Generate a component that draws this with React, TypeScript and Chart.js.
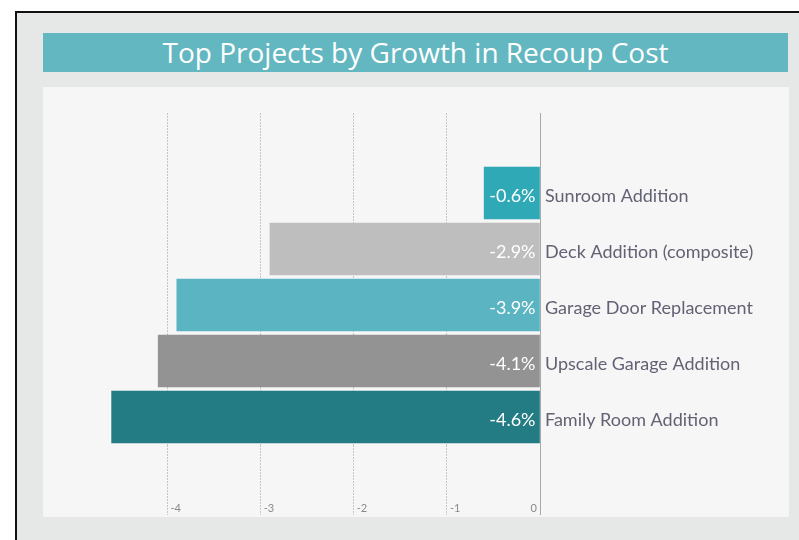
import React, { useEffect, useRef } from "react";
import { Chart, registerables } from "chart.js";

Chart.register(...registerables);

const titleText = "Top Projects by Growth in Recoup Cost";
const categories = [
  "Sunroom Addition",
  "Deck Addition (composite)",
  "Garage Door Replacement",
  "Upscale Garage Addition",
  "Family Room Addition",
];
const growth = [-0.6, -2.9, -3.9, -4.1, -4.6];
const barColors = ["#2fa9b5", "#bebebe", "#5ab4c2", "#939393", "#237b83"];
const xTicks = [-4, -3, -2, -1, 0];

const GRID = "#c6c6c6";
const ZERO = "#a9a9a9";

const labelsPlugin = {
  id: "customLabels",
  afterDatasetsDraw(chart: any) {
    const ctx = chart.ctx;
    const meta = chart.getDatasetMeta(0);
    ctx.save();
    ctx.font = "18px Lato";
    ctx.fillStyle = "#ffffff";
    ctx.textAlign = "right";
    ctx.textBaseline = "middle";
    meta.data.forEach((bar: any, i: number) => {
      const p = bar.getProps(["x", "y", "base"], true);
      ctx.fillText(`${growth[i]}%`, p.base - 4, p.y + 3);
    });
    const xs = chart.scales.x;
    ctx.font = "11px Lato";
    ctx.fillStyle = "#8a8a8a";
    xs.ticks.forEach((t: any) => {
      const px = xs.getPixelForValue(t.value);
      if (t.value === 0) {
        ctx.textAlign = "right";
        ctx.fillText(String(t.value), px - 3, xs.top + 63);
      } else {
        ctx.textAlign = "left";
        ctx.fillText(String(t.value), px + 3, xs.top + 63);
      }
    });
    ctx.restore();
  },
};

const setTicks = (axis: any) => {
  axis.ticks = xTicks.map((v) => ({ value: v }));
};

export default function App() {
  const ref = useRef<HTMLCanvasElement | null>(null);

  useEffect(() => {
    if (!ref.current) return;
    Chart.defaults.font.family = "Lato";
    const chart = new Chart(ref.current, {
      type: "bar",
      data: {
        labels: categories,
        datasets: [
          {
            data: growth,
            backgroundColor: barColors,
            borderWidth: 0,
            barThickness: 52,
          },
        ],
      },
      plugins: [labelsPlugin],
      options: {
        indexAxis: "y",
        animation: false,
        responsive: false,
        events: [],
        layout: { padding: { left: 50, right: 0, top: 26, bottom: 2 } },
        plugins: {
          legend: { display: false },
          tooltip: { enabled: false },
          title: { display: false },
        },
        scales: {
          x: {
            type: "linear",
            position: "bottom",
            min: -4.8,
            max: 0,
            afterBuildTicks: setTicks,
            ticks: { display: false },
            border: { display: false, dash: [2, 1] },
            grid: {
              color: (c: any) => (c.tick && c.tick.value === 0 ? ZERO : GRID),
              tickColor: (c: any) => (c.tick && c.tick.value === 0 ? ZERO : GRID),
              tickBorderDash: (c: any) => (c.tick && c.tick.value === 0 ? [] : [2, 1]),
              lineWidth: 1,
              drawTicks: true,
              tickLength: 70,
            },
          },
          x2: {
            type: "linear",
            position: "top",
            min: -4.8,
            max: 0,
            afterBuildTicks: setTicks,
            ticks: { display: false },
            border: { display: false },
            grid: {
              drawOnChartArea: false,
              drawTicks: true,
              tickLength: 52,
              tickColor: (c: any) => (c.tick && c.tick.value === 0 ? ZERO : GRID),
              tickBorderDash: (c: any) => (c.tick && c.tick.value === 0 ? [] : [2, 1]),
              lineWidth: 1,
            },
          },
          y: {
            type: "category",
            position: "right",
            offset: true,
            afterFit: (s: any) => {
              s.width = 249;
            },
            grid: { display: false, drawTicks: false },
            border: { display: true, color: ZERO, width: 1 },
            ticks: {
              padding: 5,
              labelOffset: 3,
              color: "#626274",
              font: { size: 18, family: "Lato" },
            },
          },
        },
      },
    } as any);
    return () => chart.destroy();
  }, []);

  return (
    <div>
      <div
        style={{
          position: "absolute",
          left: 0,
          top: 0,
          width: 799,
          height: 540,
          background: "#ffffff",
          overflow: "hidden",
        }}
      >
        <div
          style={{
            position: "absolute",
            left: 15,
            top: 11,
            width: 800,
            height: 560,
            borderTop: "2px solid #111",
            borderLeft: "2px solid #111",
            background: "#e6e8e8",
          }}
        />
        <div
          style={{
            position: "absolute",
            left: 43,
            top: 33,
            width: 745,
            height: 39,
            background: "#63b7c1",
            color: "#ffffff",
            fontFamily: "'Open Sans', sans-serif",
            fontSize: 28,
            fontWeight: 400,
            lineHeight: "39px",
            textAlign: "center",
            whiteSpace: "nowrap",
          }}
        >
          {titleText}
        </div>
        <div
          style={{
            position: "absolute",
            left: 43,
            top: 87,
            width: 746,
            height: 430,
            background: "#f6f6f6",
          }}
        >
          <canvas ref={ref} width={746} height={430} style={{ display: "block" }} />
        </div>
      </div>
    </div>
  );
}
